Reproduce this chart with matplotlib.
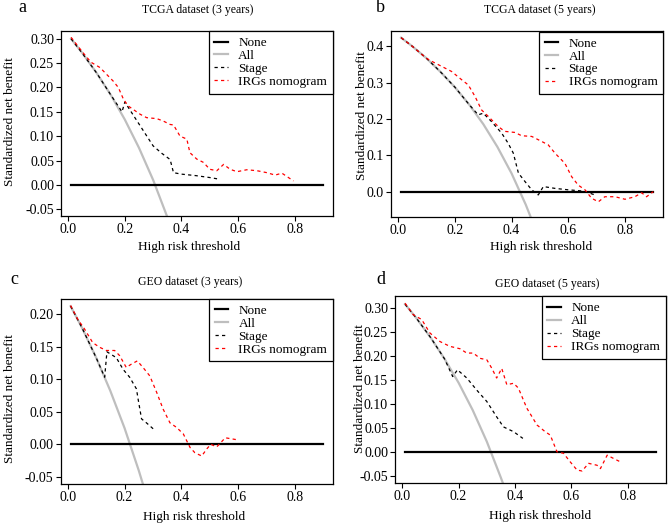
import matplotlib
matplotlib.use("Agg")
import matplotlib.pyplot as plt
from matplotlib.lines import Line2D

plt.rcParams['font.family'] = ['Liberation Serif', 'DejaVu Serif']
plt.rcParams['axes.unicode_minus'] = False

# ---- data ----
none_x = [0.01, 0.9]
none_y = [0.0, 0.0]

# a: TCGA 3 years
a_all_x = [0.01, 0.05, 0.10, 0.15, 0.20, 0.25, 0.30, 0.35, 0.36]
a_all_y = [0.300, 0.2705, 0.230, 0.185, 0.134, 0.076, 0.010, -0.066, -0.083]
a_stage_x = [0.01, 0.05, 0.10, 0.15, 0.19, 0.20, 0.25, 0.30, 0.33, 0.36, 0.372, 0.40, 0.45, 0.50, 0.53]
a_stage_y = [0.300, 0.270, 0.230, 0.185, 0.150, 0.170, 0.125, 0.080, 0.065, 0.052, 0.025, 0.022, 0.019, 0.015, 0.012]
a_nomo_x = [0.01, 0.05, 0.08, 0.112, 0.159, 0.177, 0.195, 0.212, 0.254, 0.277, 0.313, 0.336, 0.36, 0.372,
            0.395, 0.419, 0.43, 0.454, 0.478, 0.50, 0.525, 0.549, 0.572, 0.596, 0.631, 0.667, 0.702, 0.731,
            0.755, 0.796]
a_nomo_y = [0.303, 0.273, 0.252, 0.241, 0.213, 0.200, 0.176, 0.162, 0.145, 0.138, 0.136, 0.131, 0.124, 0.123,
            0.100, 0.094, 0.066, 0.053, 0.046, 0.032, 0.029, 0.042, 0.032, 0.027, 0.031, 0.029, 0.025, 0.020,
            0.024, 0.008]

# b: TCGA 5 years
b_all_x = [0.01, 0.05, 0.10, 0.15, 0.20, 0.25, 0.30, 0.35, 0.40, 0.45, 0.47]
b_all_y = [0.424, 0.400, 0.367, 0.329, 0.2875, 0.240, 0.186, 0.123, 0.050, -0.036, -0.0755]
b_stage_x = [0.01, 0.05, 0.10, 0.15, 0.20, 0.25, 0.282, 0.30, 0.329, 0.365, 0.388, 0.406, 0.424, 0.447,
             0.471, 0.494, 0.512, 0.553, 0.60, 0.647, 0.671, 0.69]
b_stage_y = [0.424, 0.400, 0.367, 0.329, 0.2875, 0.240, 0.2115, 0.216, 0.193, 0.161, 0.133, 0.106, 0.051, 0.028,
             0.005, -0.009, 0.014, 0.009, 0.005, 0.002, -0.003, -0.008]
b_nomo_x = [0.01, 0.05, 0.10, 0.118, 0.153, 0.188, 0.224, 0.247, 0.271, 0.294, 0.318, 0.353, 0.376, 0.412,
            0.435, 0.471, 0.494, 0.529, 0.553, 0.588, 0.612, 0.635, 0.659, 0.682, 0.706, 0.729, 0.765, 0.80,
            0.835, 0.859, 0.876, 0.90]
b_nomo_y = [0.424, 0.400, 0.367, 0.359, 0.345, 0.331, 0.308, 0.294, 0.262, 0.225, 0.207, 0.179, 0.166, 0.163,
            0.154, 0.152, 0.143, 0.129, 0.106, 0.078, 0.041, 0.018, 0.005, -0.018, -0.028, -0.014, -0.014,
            -0.021, -0.014, -0.003, -0.014, 0.0]

# c: GEO 3 years
c_all_x = [0.01, 0.05, 0.10, 0.15, 0.20, 0.25, 0.27]
c_all_y = [0.212, 0.179, 0.133, 0.082, 0.025, -0.040, -0.0685]
c_stage_x = [0.01, 0.05, 0.10, 0.13, 0.138, 0.171, 0.195, 0.218, 0.242, 0.248, 0.26, 0.277, 0.303]
c_stage_y = [0.212, 0.179, 0.133, 0.103, 0.142, 0.133, 0.115, 0.103, 0.085, 0.069, 0.039, 0.033, 0.023]
c_nomo_x = [0.01, 0.035, 0.059, 0.088, 0.112, 0.136, 0.165, 0.183, 0.206, 0.224, 0.245, 0.265, 0.289, 0.313,
            0.336, 0.36, 0.383, 0.407, 0.431, 0.448, 0.472, 0.49, 0.504, 0.525, 0.555, 0.596]
c_nomo_y = [0.213, 0.192, 0.177, 0.156, 0.149, 0.144, 0.144, 0.136, 0.118, 0.123, 0.128, 0.118, 0.105, 0.080,
            0.054, 0.033, 0.026, 0.016, -0.005, -0.013, -0.018, -0.007, 0.0, -0.004, 0.010, 0.007]

# d: GEO 5 years
d_all_x = [0.01, 0.05, 0.10, 0.15, 0.20, 0.25, 0.30, 0.35, 0.36]
d_all_y = [0.308, 0.279, 0.239, 0.194, 0.144, 0.087, 0.0214, -0.054, -0.070]
d_stage_x = [0.01, 0.05, 0.10, 0.15, 0.179, 0.196, 0.229, 0.264, 0.30, 0.335, 0.359, 0.395, 0.428]
d_stage_y = [0.308, 0.279, 0.239, 0.194, 0.157, 0.171, 0.154, 0.129, 0.105, 0.073, 0.052, 0.042, 0.028]
d_nomo_x = [0.01, 0.039, 0.069, 0.098, 0.134, 0.169, 0.205, 0.229, 0.252, 0.276, 0.30, 0.318, 0.335, 0.353,
            0.371, 0.395, 0.412, 0.442, 0.478, 0.507, 0.525, 0.549, 0.572, 0.596, 0.62, 0.638, 0.661, 0.691,
            0.703, 0.727, 0.75, 0.774]
d_nomo_y = [0.310, 0.286, 0.276, 0.248, 0.230, 0.220, 0.215, 0.206, 0.206, 0.195, 0.192, 0.174, 0.154, 0.174,
            0.140, 0.143, 0.133, 0.091, 0.056, 0.042, 0.035, 0.0, -0.003, -0.021, -0.038, -0.040, -0.024,
            -0.028, -0.035, -0.007, -0.014, -0.021]

titles = ["TCGA dataset (3 years)", "TCGA dataset (5 years)", "GEO dataset (3 years)", "GEO dataset (5 years)"]
letters = ["a", "b", "c", "d"]
legend_labels = ["None", "All", "Stage", "IRGs nomogram"]

W, H = 669, 525
fig = plt.figure(figsize=(W / 100, H / 100), dpi=100)

def px(x, y):
    return x / W, 1 - y / H

panels = [
    dict(rect=(61, 31, 333, 216), ylim=(-0.064, 0.316), yt=[-0.05, 0, 0.05, 0.10, 0.15, 0.20, 0.25, 0.30], fmt="{:.2f}",
         all=(a_all_x, a_all_y), stage=(a_stage_x, a_stage_y), nomo=(a_nomo_x, a_nomo_y),
         letter=(22.5, 7), title=(198, 10), xl=(189, 247), yl=(10, 122)),
    dict(rect=(391, 31.5, 663.4, 216.7), ylim=(-0.069, 0.441), yt=[0, 0.1, 0.2, 0.3, 0.4], fmt="{:.1f}",
         all=(b_all_x, b_all_y), stage=(b_stage_x, b_stage_y), nomo=(b_nomo_x, b_nomo_y),
         letter=(380.7, 8), title=(540, 10), xl=(540.7, 247), yl=(362, 116)),
    dict(rect=(60.5, 298.7, 333.3, 483.7), ylim=(-0.0605, 0.2235), yt=[-0.05, 0, 0.05, 0.10, 0.15, 0.20], fmt="{:.2f}",
         all=(c_all_x, c_all_y), stage=(c_stage_x, c_stage_y), nomo=(c_nomo_x, c_nomo_y),
         letter=(14, 280), title=(190.3, 282), xl=(194, 517), yl=(10, 399)),
    dict(rect=(395, 296.3, 666, 482.7), ylim=(-0.0644, 0.3244), yt=[-0.05, 0, 0.05, 0.10, 0.15, 0.20, 0.25, 0.30], fmt="{:.2f}",
         all=(d_all_x, d_all_y), stage=(d_stage_x, d_stage_y), nomo=(d_nomo_x, d_nomo_y),
         letter=(380.7, 280), title=(547.3, 284), xl=(540, 516), yl=(360, 389)),
]

dash = (0, (2.6, 2.6))
for i, p in enumerate(panels):
    l, t, r, b = p["rect"]
    ax = fig.add_axes([l / W, 1 - b / H, (r - l) / W, (b - t) / H])
    ax.plot(none_x, none_y, color="black", lw=1.6, zorder=3)
    ax.plot(*p["all"], color="#bebebe", lw=1.6, zorder=2)
    ax.plot(*p["stage"], color="black", lw=0.9, ls=dash, zorder=4)
    ax.plot(*p["nomo"], color="red", lw=0.9, ls=dash, zorder=5)
    ax.set_xlim(-0.0256, 0.9356)
    ax.set_ylim(*p["ylim"])
    ax.set_xticks([0, 0.2, 0.4, 0.6, 0.8])
    ax.set_xticklabels(["{:.1f}".format(v) for v in [0, 0.2, 0.4, 0.6, 0.8]])
    ax.set_yticks(p["yt"])
    ax.set_yticklabels([p["fmt"].format(v) for v in p["yt"]])
    ax.tick_params(labelsize=10, length=3.5, width=0.8, direction="out", pad=1.5)
    for s in ax.spines.values():
        s.set_linewidth(0.9)

    handles = [Line2D([], [], color="black", lw=1.6),
               Line2D([], [], color="#bebebe", lw=1.6),
               Line2D([], [], color="black", lw=0.9, ls=dash),
               Line2D([], [], color="red", lw=0.9, ls=dash)]
    leg = ax.legend(handles, legend_labels, loc="upper right", borderaxespad=0, fontsize=9.5,
                    frameon=True, fancybox=False, framealpha=1, edgecolor="black",
                    handlelength=1.0, handletextpad=0.8, labelspacing=0.05, borderpad=0.45)
    leg.get_frame().set_linewidth(0.9)

    fig.text(*px(*p["letter"]), letters[i], fontsize=13, ha="center", va="center")
    fig.text(*px(*p["title"]), titles[i], fontsize=8.5, ha="center", va="center")
    fig.text(*px(*p["xl"]), "High risk threshold", fontsize=9.5, ha="center", va="center")
    fig.text(*px(*p["yl"]), "Standardized net benefit", fontsize=9.5, ha="center", va="center", rotation=90)

fig.savefig("out.png", dpi=100)
